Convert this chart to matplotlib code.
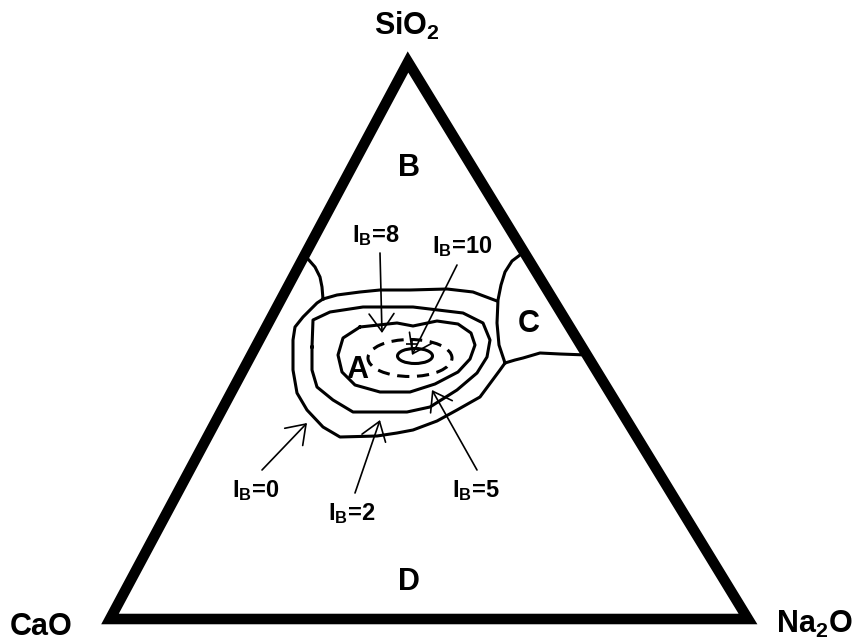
import matplotlib
matplotlib.use("Agg")
import matplotlib.pyplot as plt
from matplotlib.patches import Ellipse, Polygon

plt.rcParams['font.family'] = ['Liberation Sans', 'DejaVu Sans']
plt.rcParams['font.weight'] = 'bold'
plt.rcParams['mathtext.fontset'] = 'custom'
plt.rcParams['mathtext.rm'] = 'Liberation Sans:bold'
plt.rcParams['mathtext.bf'] = 'Liberation Sans:bold'
plt.rcParams['mathtext.it'] = 'Liberation Sans:bold'

# diagram coordinates (image-like units, y grows downward)
tri_x = [110, 748, 408]
tri_y = [619, 619, 62]

# B / A boundary on the left
left_bd_x = [302, 308, 315, 320, 322, 323]
left_bd_y = [260, 259, 267, 277, 287, 299]

# C region boundary (upper and lower)
c_upper_x = [524, 512, 505, 501, 498, 497, 499, 505]
c_upper_y = [252, 261, 272, 285, 300, 323, 345, 363]
c_lower_x = [505, 515, 523, 540, 560, 587]
c_lower_y = [363, 360, 358, 353, 354, 355]

# I_B = 0 contour (top line + lower loop)
ib0_top_x = [323, 337, 360, 380, 410, 447, 473, 497]
ib0_top_y = [299, 295, 292, 290, 290, 289, 292, 301]
ib0_low_x = [505, 500, 480, 457, 437, 413, 397, 377, 340, 323, 307, 297, 293,
             293, 295, 303, 317, 323]
ib0_low_y = [363, 370, 397, 410, 421, 430, 433, 436, 437, 427, 410, 393, 370,
             340, 327, 317, 303, 299]

# I_B = 2 contour
ib2_x = [312, 312, 317, 333, 353, 407, 430, 457, 477, 487, 490, 483, 463, 413,
         363, 330, 313, 312]
ib2_y = [347, 370, 387, 400, 412, 412, 407, 390, 373, 357, 340, 323, 313, 307,
         307, 312, 320, 347]

# I_B = 5 contour
ib5_x = [360, 397, 413, 437, 458, 471, 475, 470, 458, 435, 410, 380, 355, 342,
         338, 343, 360]
ib5_y = [327, 323, 326, 321, 324, 333, 345, 359, 372, 384, 392, 392, 385, 372,
         355, 338, 327]

# I_B = 8 (dashed) and I_B = 10 (small) closed curves
ib8_center = (410, 358)
ib8_size = (84, 37)
ib10_center = (415, 356)
ib10_size = (35, 15)
plus_mark = (412, 344)

region_labels = ['B', 'C', 'A', 'D']
region_x = [409, 529, 357, 409]
region_y = [176, 332, 378, 590]

ib_labels = ['8', '10', '0', '2', '5']
ib_text_x = [376, 462, 256, 352, 476]
ib_text_y = [242, 253, 497, 520, 497]
arrow_start = [(380, 253), (457, 265), (262, 470), (355, 493), (477, 470)]
arrow_end = [(382, 333), (412, 355), (307, 423), (380, 420), (432, 390)]

fig = plt.figure(figsize=(8.55, 6.43), dpi=100)
ax = fig.add_axes([0, 0, 1, 1])
ax.set_xlim(0, 855)
ax.set_ylim(643, 0)
ax.axis('off')

ax.add_patch(Polygon(list(zip(tri_x, tri_y)), closed=True, fill=False,
                     edgecolor='black', lw=7.6, joinstyle='miter'))

lw = 2.2
for xs, ys in [(left_bd_x, left_bd_y), (c_upper_x, c_upper_y),
               (c_lower_x, c_lower_y), (ib0_top_x, ib0_top_y),
               (ib0_low_x, ib0_low_y), (ib2_x, ib2_y), (ib5_x, ib5_y)]:
    ax.plot(xs, ys, color='black', lw=lw, solid_joinstyle='round')

ax.add_patch(Ellipse(ib8_center, ib8_size[0], ib8_size[1], fill=False,
                     edgecolor='black', lw=lw, linestyle=(0, (4, 2.5))))
ax.add_patch(Ellipse(ib10_center, ib10_size[0], ib10_size[1], fill=False,
                     edgecolor='black', lw=lw))
ax.plot(*plus_mark, marker='+', color='black', ms=9, mew=1.2)

for lab, x, y in zip(region_labels, region_x, region_y):
    ax.text(x, y, lab, fontsize=22, ha='center', va='baseline')

for lab, x, y, s, e in zip(ib_labels, ib_text_x, ib_text_y, arrow_start, arrow_end):
    ax.text(x, y, 'I$_B$=' + lab, fontsize=17, ha='center', va='baseline')
    ax.annotate('', xy=e, xytext=s,
                arrowprops=dict(arrowstyle='->,head_length=0.4,head_width=0.28',
                                color='black', lw=1.2, mutation_scale=32,
                                shrinkA=0, shrinkB=0))

ax.text(407, 35, 'SiO$_2$', fontsize=22, ha='center', va='baseline')
ax.text(10, 635, 'CaO', fontsize=22, ha='left', va='baseline')
ax.text(853, 633, 'Na$_2$O', fontsize=22, ha='right', va='baseline')

fig.savefig('out.png', dpi=100)
